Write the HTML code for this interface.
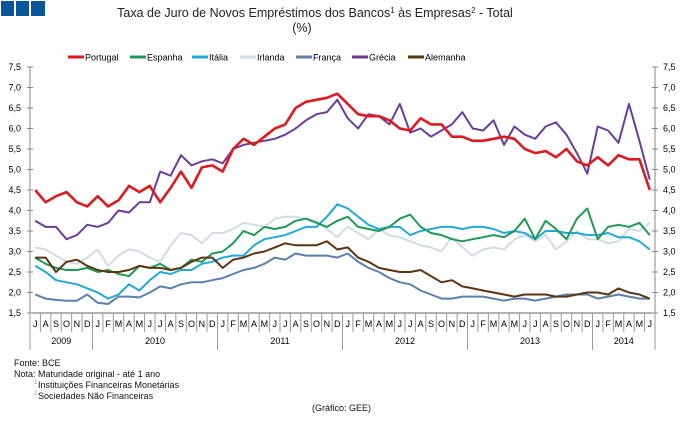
<!DOCTYPE html>
<html><head><meta charset="utf-8"><style>
body{margin:0;background:#fff;font-family:"Liberation Sans",sans-serif}
svg text{font-family:"Liberation Sans",sans-serif}
</style></head><body>
<svg id="s" width="683" height="416" viewBox="0 0 683 416" xmlns="http://www.w3.org/2000/svg">
<rect x="1" y="1" width="13" height="15" fill="#0b559b"/>
<rect x="16" y="1" width="13" height="15" fill="#0b559b"/>
<rect x="31" y="1" width="14" height="15" fill="#0b559b"/>
<text x="315" y="17" font-size="12.5" text-anchor="middle" fill="#222">Taxa de Juro de Novos Empréstimos dos Bancos<tspan font-size="8" dy="-4">1</tspan><tspan dy="4"> às Empresas</tspan><tspan font-size="8" dy="-4">2</tspan><tspan dy="4"> - Total</tspan></text>
<text x="302" y="32" font-size="12.5" text-anchor="middle" fill="#222">(%)</text>
<g id="g"></g>
<g font-size="9" fill="#111">
<text x="14" y="366">Fonte: BCE</text>
<text x="14" y="377">Nota: Maturidade original - até 1 ano</text>
<text x="34" y="384" font-size="6" fill="#999">1</text>
<text x="38" y="388">Instituições Financeiras Monetárias</text>
<text x="34" y="395" font-size="6" fill="#999">2</text>
<text x="38" y="399">Sociedades Não Financeiras</text>
<text x="312" y="411">(Gráfico: GEE)</text>
</g>
</svg>
<script>
const g=document.getElementById('g');let h='';
const X0=30,X1=655,N=60,W=(X1-X0)/N;
const Y=v=>67+(7.5-v)*41;
h+=`<line x1="${X0}" y1="67" x2="${X0}" y2="313" stroke="#888"/><line x1="${X1}" y1="67" x2="${X1}" y2="313" stroke="#888"/>`;
h+=`<line x1="${X0}" y1="313" x2="${X1}" y2="313" stroke="#666"/>`;
for(let v=1.5;v<=7.51;v+=0.5){const y=Y(v);const t=v.toFixed(1).replace('.',',');
h+=`<line x1="${X0-3}" x2="${X0+3}" y1="${y}" y2="${y}" stroke="#888"/><line x1="${X1-3}" x2="${X1+3}" y1="${y}" y2="${y}" stroke="#888"/>`;
h+=`<text x="${X0-9}" y="${y+3}" font-size="9" text-anchor="end">${t}</text><text x="${X1+8}" y="${y+3}" font-size="9">${t}</text>`;}
const M="JASONDJFMAMJJASONDJFMAMJJASONDJFMAMJJASONDJFMAMJJASONDJFMAMJ";
for(let i=0;i<N;i++){const x=X0+W*i;h+=`<line x1="${x}" x2="${x}" y1="313" y2="332" stroke="#999"/>`;
h+=`<text x="${x+W/2}" y="327" font-size="9" text-anchor="middle">${M[i]}</text>`;}
[0,6,18,30,42,54,60].forEach(i=>{const x=X0+W*i;h+=`<line x1="${x}" x2="${x}" y1="313" y2="350" stroke="#999"/>`});
[[3,'2009'],[12,'2010'],[24,'2011'],[36,'2012'],[48,'2013'],[57,'2014']].forEach(([i,t])=>h+=`<text x="${X0+W*i}" y="344" font-size="9" text-anchor="middle">${t}</text>`);
const D={
ir:["#d2dbe6",[3.1,3.05,2.9,2.75,2.7,2.85,3.05,2.65,2.9,3.05,3.0,2.85,2.75,3.15,3.45,3.4,3.2,3.45,3.45,3.55,3.7,3.65,3.6,3.8,3.85,3.85,3.8,3.75,3.55,3.35,3.6,3.45,3.3,3.55,3.4,3.35,3.25,3.15,3.1,3.0,3.35,3.1,2.9,3.05,3.1,3.05,3.3,3.4,3.25,3.4,3.05,3.25,3.5,3.3,3.3,3.2,3.25,3.55,3.5,3.7]],
fr:["#5b7fae",[1.95,1.85,1.82,1.8,1.8,1.95,1.75,1.72,1.9,1.9,1.88,2.0,2.15,2.1,2.2,2.25,2.25,2.3,2.35,2.45,2.55,2.6,2.7,2.85,2.8,2.95,2.9,2.9,2.9,2.85,2.95,2.75,2.6,2.5,2.35,2.25,2.2,2.05,1.95,1.85,1.85,1.9,1.9,1.9,1.85,1.8,1.85,1.85,1.8,1.85,1.9,1.95,1.95,1.95,1.85,1.9,1.95,1.9,1.85,1.85]],
it:["#22a8dd",[2.65,2.5,2.3,2.25,2.2,2.1,2.0,1.85,1.95,2.2,2.05,2.3,2.5,2.45,2.55,2.55,2.7,2.75,2.85,2.9,2.9,3.15,3.3,3.35,3.4,3.5,3.6,3.6,3.85,4.15,4.05,3.85,3.65,3.55,3.6,3.6,3.4,3.5,3.55,3.6,3.6,3.55,3.6,3.6,3.55,3.45,3.5,3.45,3.3,3.5,3.5,3.45,3.45,3.4,3.4,3.45,3.35,3.35,3.25,3.05]],
es:["#1f9a55",[2.85,2.7,2.6,2.55,2.55,2.6,2.5,2.55,2.45,2.4,2.65,2.6,2.7,2.55,2.6,2.8,2.75,2.95,3.0,3.2,3.5,3.4,3.6,3.55,3.6,3.75,3.8,3.7,3.6,3.75,3.85,3.6,3.55,3.5,3.6,3.8,3.9,3.6,3.45,3.4,3.3,3.25,3.3,3.35,3.4,3.35,3.5,3.8,3.3,3.75,3.55,3.3,3.8,4.05,3.3,3.6,3.65,3.6,3.7,3.4]],
al:["#5a3510",[2.85,2.85,2.5,2.75,2.8,2.65,2.55,2.5,2.5,2.55,2.65,2.6,2.6,2.55,2.6,2.75,2.85,2.85,2.6,2.8,2.85,2.95,3.0,3.1,3.2,3.15,3.15,3.15,3.25,3.05,3.1,2.85,2.75,2.6,2.55,2.5,2.5,2.55,2.4,2.25,2.3,2.15,2.1,2.05,2.0,1.95,1.9,1.95,1.95,1.95,1.9,1.9,1.95,2.0,2.0,1.95,2.1,2.0,1.95,1.85]],
gr:["#6a3d9a",[3.75,3.6,3.6,3.3,3.4,3.65,3.6,3.7,4.0,3.95,4.2,4.2,4.95,4.85,5.35,5.1,5.2,5.25,5.15,5.5,5.6,5.65,5.7,5.75,5.85,6.0,6.2,6.35,6.4,6.7,6.25,6.0,6.35,6.3,6.1,6.6,5.9,6.0,5.8,5.95,6.1,6.4,6.0,5.95,6.2,5.6,6.05,5.85,5.75,6.05,6.15,5.85,5.4,4.9,6.05,5.95,5.65,6.6,5.7,4.75]],
pt:["#e0191e",[4.5,4.2,4.35,4.45,4.2,4.1,4.35,4.1,4.25,4.6,4.45,4.6,4.2,4.55,4.95,4.55,5.05,5.1,4.95,5.5,5.75,5.6,5.8,6.0,6.1,6.5,6.65,6.7,6.75,6.85,6.6,6.35,6.3,6.3,6.2,6.0,5.95,6.25,6.1,6.1,5.8,5.8,5.7,5.7,5.75,5.8,5.75,5.5,5.4,5.45,5.3,5.5,5.2,5.1,5.3,5.1,5.35,5.25,5.25,4.5]]};
for(const k in D){const [c,a]=D[k];const p=a.map((v,i)=>(X0+W*(i+0.5)).toFixed(1)+','+Y(v).toFixed(1)).join(' ');
h+=`<polyline points="${p}" fill="none" stroke="${c}" stroke-width="${k=='pt'?2.6:2}" stroke-linejoin="round"/>`;}
const L=[["Portugal","#e0191e",68],["Espanha","#1f9a55",130],["Itália","#22a8dd",192],["Irlanda","#d2dbe6",240],["França","#5b7fae",296],["Grécia","#6a3d9a",352],["Alemanha","#5a3510",408]];
L.forEach(([t,c,x])=>{h+=`<line x1="${x}" x2="${x+16}" y1="57" y2="57" stroke="${c}" stroke-width="3"/><text x="${x+17}" y="60.5" font-size="9">${t}</text>`});
g.innerHTML=h;
</script>
</body></html>
